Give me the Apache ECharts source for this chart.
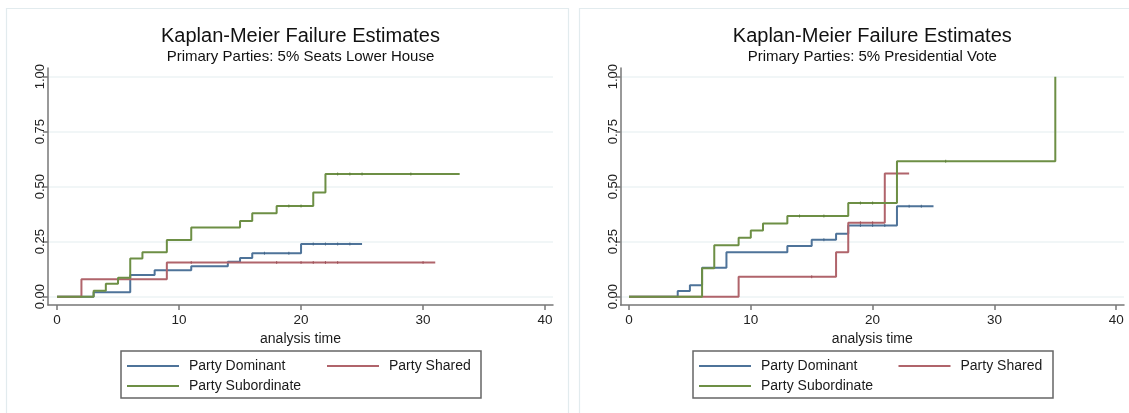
<!DOCTYPE html>
<html>
<head>
<meta charset="utf-8">
<script src="https://cdn.jsdelivr.net/npm/echarts@6/dist/echarts.min.js"></script>
<style>
  html, body { margin: 0; padding: 0; background: #ffffff; }
  #chart { width: 1129px; height: 413px; }
</style>
</head>
<body>
<div id="chart"></div>
<script>
// ---- text ----
const mainTitle = 'Kaplan-Meier Failure Estimates';
const panelSubtitles = ['Primary Parties: 5% Seats Lower House', 'Primary Parties: 5% Presidential Vote'];
const groupNames = ['Party Dominant', 'Party Shared', 'Party Subordinate'];
const xAxisName = 'analysis time';
const xTickValues = [0, 10, 20, 30, 40];
const yTickValues = [0, 0.25, 0.5, 0.75, 1];

// ---- panel 1: 5% seats, lower house (failure function, step at each time) ----
const seatsDominantTime = [0, 3, 6, 8, 11, 14, 15, 16, 20, 25];
const seatsDominantFail = [0, 0.020, 0.098, 0.120, 0.138, 0.159, 0.176, 0.197, 0.239, 0.239];
const seatsDominantCensor = [17, 19, 21, 22, 23, 24];

const seatsSharedTime = [0, 2, 9, 31];
const seatsSharedFail = [0, 0.079, 0.155, 0.155];
const seatsSharedCensor = [11, 18, 20, 21, 22, 23, 30];

const seatsSubordinateTime = [0, 3, 4, 5, 6, 7, 9, 11, 15, 16, 18, 21, 22, 33];
const seatsSubordinateFail = [0, 0.027, 0.059, 0.086, 0.173, 0.202, 0.258, 0.314, 0.344, 0.379, 0.412, 0.473, 0.558, 0.558];
const seatsSubordinateCensor = [19, 20, 23, 24, 25, 29];

// ---- panel 2: 5% presidential vote ----
const presDominantTime = [0, 4, 5, 6, 8, 13, 15, 17, 18, 22, 25];
const presDominantFail = [0, 0.026, 0.052, 0.131, 0.202, 0.230, 0.259, 0.286, 0.324, 0.411, 0.411];
const presDominantCensor = [16, 19, 20, 21, 23, 24];

const presSharedTime = [0, 9, 17, 18, 21, 23];
const presSharedFail = [0, 0.090, 0.202, 0.336, 0.560, 0.560];
const presSharedCensor = [15, 19, 20];

const presSubordinateTime = [0, 6, 7, 9, 10, 11, 13, 18, 22, 35];
const presSubordinateFail = [0, 0.129, 0.234, 0.268, 0.301, 0.333, 0.367, 0.426, 0.616, 1.0];
const presSubordinateCensor = [14, 16, 19, 20, 26];

// ---- styling ----
const lineColors = ['#4e7399', '#b0646b', '#6d8f45'];
const censorColors = ['#3d5f82', '#984b52', '#587934'];
const fontFamily = '"Liberation Sans", Arial, Helvetica, sans-serif';
const axisGrey = '#777777';
const gridGrey = '#edf3f4';

const panels = [
  {
    grid: { left: 48, top: 68, width: 505, height: 237 },
    xRange: [-0.74, 40.65],
    centerX: 300.5,
    legendX: [127, 327],
    groups: [
      { time: seatsDominantTime, fail: seatsDominantFail, censor: seatsDominantCensor },
      { time: seatsSharedTime, fail: seatsSharedFail, censor: seatsSharedCensor },
      { time: seatsSubordinateTime, fail: seatsSubordinateFail, censor: seatsSubordinateCensor }
    ]
  },
  {
    grid: { left: 620.6, top: 68, width: 503.4, height: 237 },
    xRange: [-0.69, 40.64],
    centerX: 872.3,
    legendX: [699, 898.5],
    groups: [
      { time: presDominantTime, fail: presDominantFail, censor: presDominantCensor },
      { time: presSharedTime, fail: presSharedFail, censor: presSharedCensor },
      { time: presSubordinateTime, fail: presSubordinateFail, censor: presSubordinateCensor }
    ]
  }
];

// value of a step function (right-continuous) at time t
function stepValue(times, values, t) {
  let v = values[0];
  for (let i = 0; i < times.length; i++) {
    if (times[i] <= t) v = values[i];
  }
  return v;
}

const grids = [], xAxes = [], yAxes = [], series = [], titles = [], legends = [];

panels.forEach((p, pi) => {
  grids.push(Object.assign({ outerBoundsMode: 'none', containLabel: false }, p.grid));

  xAxes.push({
    type: 'value', gridIndex: pi,
    min: p.xRange[0], max: p.xRange[1],
    axisLine: { show: true, onZero: false, lineStyle: { color: axisGrey, width: 1.5 } },
    axisTick: { show: true, customValues: xTickValues, length: 5, lineStyle: { color: axisGrey, width: 1.5 } },
    axisLabel: { customValues: xTickValues, fontSize: 13.5, color: '#222', margin: 8, fontFamily },
    splitLine: { show: false },
    name: xAxisName, nameLocation: 'middle', nameGap: 24,
    nameTextStyle: { fontSize: 14, color: '#1a1a1a', fontFamily }
  });

  yAxes.push({
    type: 'value', gridIndex: pi,
    min: -0.038, max: 1.0395,
    axisLine: { show: true, onZero: false, lineStyle: { color: axisGrey, width: 1.5 } },
    axisTick: { show: true, customValues: yTickValues, length: 5, lineStyle: { color: axisGrey, width: 1.5 } },
    axisLabel: {
      customValues: yTickValues, rotate: 90, fontSize: 13, color: '#222', margin: 1, fontFamily,
      formatter: v => Number(v).toFixed(2)
    },
    splitLine: { show: true, lineStyle: { color: gridGrey, width: 1.5 } }
  });

  p.groups.forEach((g, gi) => {
    series.push({
      name: groupNames[gi], type: 'line', step: 'end',
      xAxisIndex: pi, yAxisIndex: pi,
      showSymbol: false, symbol: 'none', silent: true,
      lineStyle: { color: lineColors[gi], width: 2 },
      itemStyle: { color: lineColors[gi] },
      data: g.time.map((t, i) => [t, g.fail[i]]),
      z: 2 + gi
    });
  });
  // censoring marks drawn over the curves
  p.groups.forEach((g, gi) => {
    series.push({
      name: groupNames[gi] + ' (censored)', type: 'scatter',
      xAxisIndex: pi, yAxisIndex: pi, silent: true,
      symbol: 'rect', symbolSize: [1, 3],
      itemStyle: { color: censorColors[gi] },
      data: g.censor.map(t => [t, stepValue(g.time, g.fail, t)]),
      z: 6
    });
  });

  titles.push({
    text: mainTitle, subtext: panelSubtitles[pi],
    left: p.centerX, top: 26, textAlign: 'center', padding: 0, itemGap: 3,
    textStyle: { fontSize: 20, fontWeight: 'normal', color: '#111', fontFamily },
    subtextStyle: { fontSize: 15, color: '#111', fontFamily }
  });

  const legendBase = {
    orient: 'horizontal', icon: 'rect', itemWidth: 52, itemHeight: 2, padding: 0,
    textStyle: { fontSize: 14, color: '#1a1a1a', fontFamily, padding: [0, 0, 0, 5] }
  };
  legends.push(Object.assign({ data: [groupNames[0]], left: p.legendX[0], top: 359 }, legendBase));
  legends.push(Object.assign({ data: [groupNames[1]], left: p.legendX[1], top: 359 }, legendBase));
  legends.push(Object.assign({ data: [groupNames[2]], left: p.legendX[0], top: 379 }, legendBase));
});

// panel frames and legend boxes
const graphics = [
  { type: 'rect', z: -10, shape: { x: 6.5, y: 8.5, width: 562, height: 412 }, style: { fill: '#fff', stroke: '#e2ebee', lineWidth: 1.2 } },
  { type: 'rect', z: -10, shape: { x: 579.5, y: 8.5, width: 560, height: 412 }, style: { fill: '#fff', stroke: '#e2ebee', lineWidth: 1.2 } },
  { type: 'rect', z: 1, shape: { x: 121, y: 351, width: 360, height: 47 }, style: { fill: 'none', stroke: '#666', lineWidth: 1.5 } },
  { type: 'rect', z: 1, shape: { x: 693, y: 351, width: 360, height: 47 }, style: { fill: 'none', stroke: '#666', lineWidth: 1.5 } }
];

const chart = echarts.init(document.getElementById('chart'), null, { renderer: 'canvas' });
chart.setOption({
  backgroundColor: '#ffffff',
  animation: false,
  textStyle: { fontFamily },
  title: titles,
  grid: grids,
  xAxis: xAxes,
  yAxis: yAxes,
  legend: legends,
  graphic: graphics,
  series: series
});
</script>
</body>
</html>
